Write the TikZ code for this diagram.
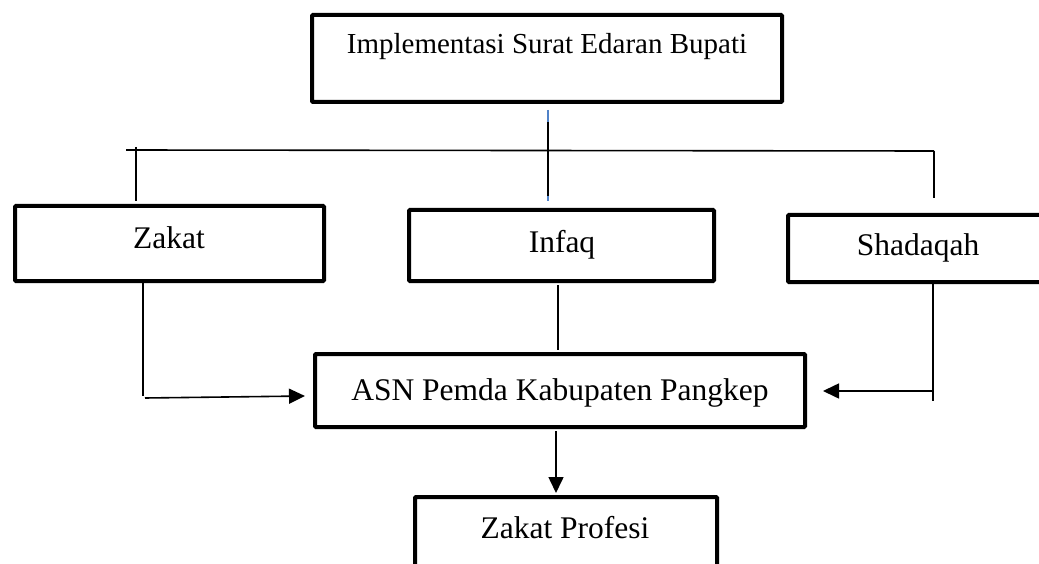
\documentclass[tikz,border=0pt]{standalone}
\usepackage{fontspec}
\setmainfont{Liberation Serif}
\usetikzlibrary{arrows.meta}
\definecolor{tipblue}{RGB}{80,130,200}
\tikzset{
  box/.style={draw=black, line width=4pt, outer sep=2pt, inner sep=0pt, rounded corners=1pt, anchor=north west, fill=white},
  lbl/.style={anchor=base, inner sep=0pt, font=\fontsize{31.5}{36}\selectfont},
  toplbl/.style={anchor=base, inner sep=0pt, font=\fontsize{29}{34}\selectfont},
  conn/.style={draw=black, line width=1.6pt},
  arr/.style={conn, -{Triangle[length=16pt, width=15pt]}}
}
\begin{document}
\begin{tikzpicture}[x=1pt,y=-1pt]
\useasboundingbox (0,0) rectangle (1039,564);
\clip (0,0) rectangle (1039,564);
\fill[white] (0,0) rectangle (1039,564);
% boxes
\node[box, minimum width=470pt, minimum height=87pt] (top) at (310,13) {};
\node[box, minimum width=309pt, minimum height=75pt] (zakat) at (13,204) {};
\node[box, minimum width=305pt, minimum height=71pt] (infaq) at (407,208) {};
\node[box, minimum width=270pt, minimum height=67pt] (shad) at (786,213) {};
\node[box, minimum width=490pt, minimum height=73pt] (asn) at (313,352) {};
\node[box, minimum width=302pt, minimum height=101pt] (zp) at (413,495) {};
% labels
\node[toplbl] (topT) at (547,54) {Implementasi Surat Edaran Bupati};
\node[lbl] (zakatT) at (169,248) {Zakat};
\node[lbl] (infaqT) at (562,253) {Infaq};
\node[lbl] (shadT) at (918,256) {Shadaqah};
\node[lbl] (asnT) at (560,400) {ASN Pemda Kabupaten Pangkep};
\node[lbl] (zpT) at (565,538) {Zakat Profesi};
% coordinates
\coordinate (tA) at (548,110);
\coordinate (tB) at (548,122);
\coordinate (tC) at (548,196);
\coordinate (tD) at (548,201);
\coordinate (hL) at (126,150);
\coordinate (hR) at (934,151);
\coordinate (lTop) at (136,147);
\coordinate (lBot) at (136,201);
\coordinate (rTop) at (934,151);
\coordinate (rBot) at (934,198);
\coordinate (zA) at (143,283);
\coordinate (zB) at (143,396);
\coordinate (zC) at (145,398);
\coordinate (zTip) at (305,396);
\coordinate (iA) at (558,285);
\coordinate (iB) at (558,350);
\coordinate (sA) at (933,284);
\coordinate (sB) at (933,401);
\coordinate (sC) at (934,391);
\coordinate (sTip) at (823,391);
\coordinate (aA) at (556,431);
\coordinate (aTip) at (556,493);
% connectors
\draw[conn, draw=tipblue] (tA) -- (tB);
\draw[conn] (tB) -- (tC);
\draw[conn, draw=tipblue] (tC) -- (tD);
\draw[conn] (hL) -- (hR);
\draw[conn] (lTop) -- (lBot);
\draw[conn] (rTop) -- (rBot);
\draw[conn] (zA) -- (zB);
\draw[arr] (zC) -- (zTip);
\draw[conn] (iA) -- (iB);
\draw[conn] (sA) -- (sB);
\draw[arr] (sC) -- (sTip);
\draw[arr] (aA) -- (aTip);
\end{tikzpicture}
\end{document}
